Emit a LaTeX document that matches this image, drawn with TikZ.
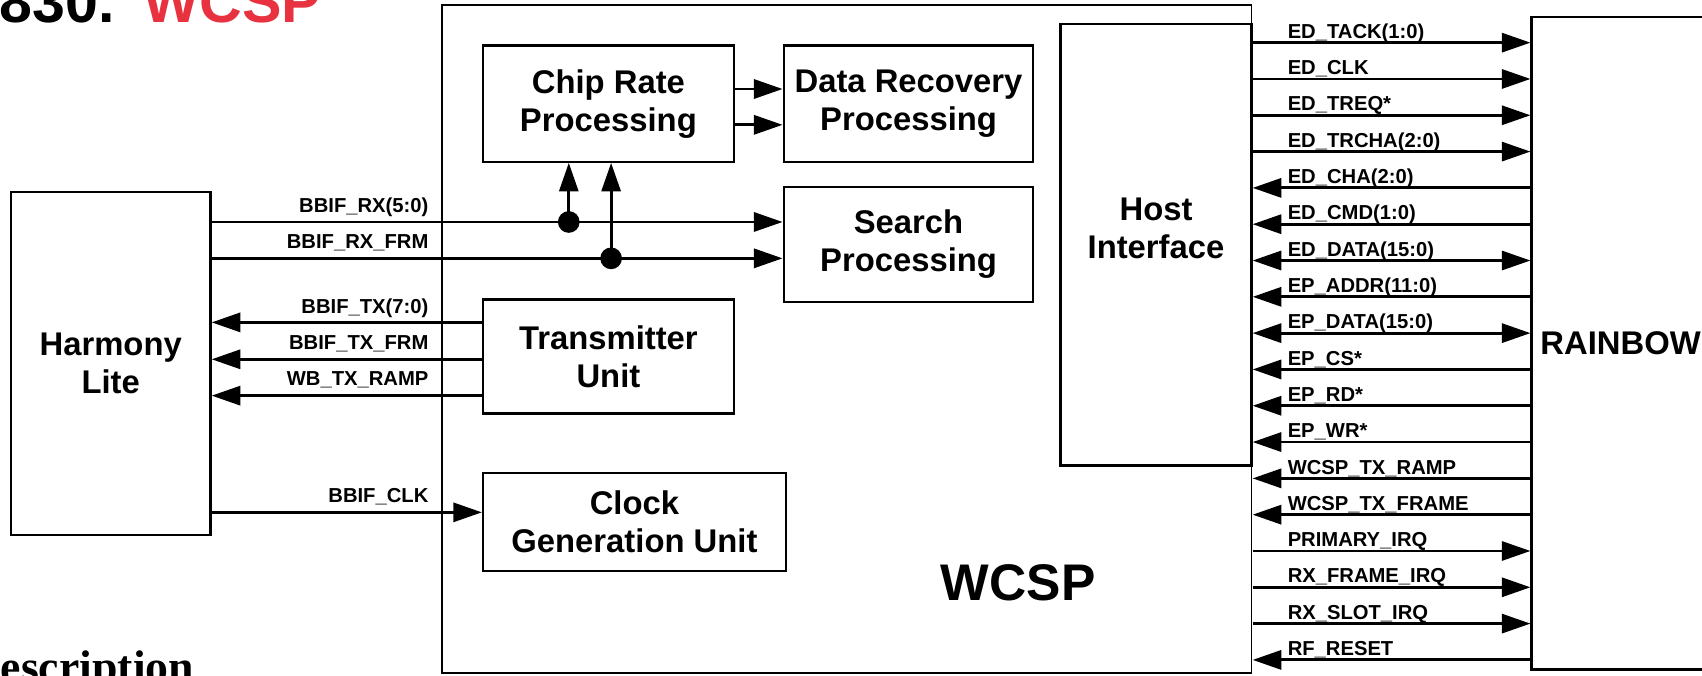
\documentclass[tikz,border=0pt]{standalone}
\usepackage{fontspec}
\usepackage{xcolor}
\usepackage{tikz}
\usetikzlibrary{arrows.meta, positioning}

\newfontfamily\arialf{Liberation Sans}
\newfontfamily\timesf{Liberation Serif}
\definecolor{titlered}{RGB}{232,50,64}

\begin{document}
\begin{tikzpicture}[
  x=0.02cm, y=-0.02cm,
  >={Triangle[length=15pt,width=10pt]},
  blk/.style={draw, line width=1.2pt, align=center, inner sep=0pt,
    font=\arialf\bfseries\fontsize{17.2}{20}\selectfont},
  sig/.style={line width=1.5pt},
  siglbl/.style={inner sep=0pt, font=\arialf\bfseries\fontsize{10.6}{12}\selectfont},
  torb/.style={->}, tohost/.style={<-}, bidir/.style={<->},
  tap/.style={circle, fill, minimum size=0.4cm, inner sep=0pt}
]
\useasboundingbox (0,0) rectangle (1568,622);

% page title and heading (cut by the page)
\node[inner sep=0pt, anchor=base east, font=\arialf\bfseries\fontsize{31}{36}\selectfont] (titlenum) at (106,21) {830.};
\node[inner sep=0pt, anchor=base west, text=titlered, font=\arialf\bfseries\fontsize{31}{36}\selectfont] (titlename) at (132,21) {WCSP};
\node[inner sep=0pt, anchor=base west, font=\timesf\bfseries\fontsize{24}{28}\selectfont] (heading) at (-30,629) {Description};

% blocks
\node[blk, minimum width=3.68cm, minimum height=6.32cm] (harmony) at (102,335) {Harmony\\Lite};
\node[draw, line width=1pt, minimum width=14.92cm, minimum height=12.31cm] (wcsp) at (780,312.3) {};
\node[blk, minimum width=4.62cm, minimum height=2.14cm] (chip) at (560.5,95.5) {Chip Rate\\Processing};
\node[blk, minimum width=4.60cm, minimum height=2.14cm] (datarec) at (837,95.5) {Data Recovery\\Processing};
\node[blk, minimum width=4.60cm, minimum height=2.12cm] (search) at (837,225) {Search\\Processing};
\node[blk, minimum width=4.62cm, minimum height=2.10cm] (tx) at (560.5,328.5) {Transmitter\\Unit};
\node[blk, minimum width=5.58cm, minimum height=1.80cm] (clkgen) at (584.5,481) {Clock\\Generation Unit};
\node[blk, minimum width=3.52cm, minimum height=8.14cm] (host) at (1065,225.5) {};
\node[blk, draw=none] (hostlbl) at (1065,210) {Host\\Interface};
\node[blk, minimum width=3.28cm, minimum height=12.03cm] (rainbow) at (1493,316.2) {RAINBOW};
\node[inner sep=0pt, anchor=base, font=\arialf\bfseries\fontsize{27}{32}\selectfont] (wcsplbl) at (938,553) {WCSP};

% Harmony Lite <-> WCSP
\node[tap] (tapa) at (524,204.5) {};
\node[tap] (tapb) at (563,238) {};
\draw[sig,->] (harmony.east |- 0,204.5) -- (search.west |- 0,204.5);
\draw[sig,->] (harmony.east |- 0,238) -- (search.west |- 0,238);
\draw[sig,->] (tapa.center) -- (tapa.center |- chip.south);
\draw[sig,->] (tapb.center) -- (tapb.center |- chip.south);
\draw[sig,->] (chip.east |- 0,82) -- (datarec.west |- 0,82);
\draw[sig,->] (chip.east |- 0,115) -- (datarec.west |- 0,115);
\draw[sig,->] (tx.west |- 0,297) -- (harmony.east |- 0,297);
\draw[sig,->] (tx.west |- 0,331) -- (harmony.east |- 0,331);
\draw[sig,->] (tx.west |- 0,364.5) -- (harmony.east |- 0,364.5);
\draw[sig,->] (harmony.east |- 0,472) -- (clkgen.west |- 0,472);

\node[siglbl, anchor=base east] (lrx) at (395,195.5) {BBIF\_RX(5:0)};
\node[siglbl, anchor=base east] (lrxfrm) at (395,229) {BBIF\_RX\_FRM};
\node[siglbl, anchor=base east] (ltx) at (395,288.5) {BBIF\_TX(7:0)};
\node[siglbl, anchor=base east] (ltxfrm) at (395,322) {BBIF\_TX\_FRM};
\node[siglbl, anchor=base east] (lramp) at (395,355.5) {WB\_TX\_RAMP};
\node[siglbl, anchor=base east] (lclk) at (395,463) {BBIF\_CLK};

% Host Interface <-> RAINBOW
\foreach \sname/\sdir [count=\i from 0] in {
  {ED\_TACK(1:0)}/torb, {ED\_CLK}/torb, {ED\_TREQ*}/torb, {ED\_TRCHA(2:0)}/torb,
  {ED\_CHA(2:0)}/tohost, {ED\_CMD(1:0)}/tohost, {ED\_DATA(15:0)}/bidir,
  {EP\_ADDR(11:0)}/tohost, {EP\_DATA(15:0)}/bidir, {EP\_CS*}/tohost,
  {EP\_RD*}/tohost, {EP\_WR*}/tohost, {WCSP\_TX\_RAMP}/tohost,
  {WCSP\_TX\_FRAME}/tohost, {PRIMARY\_IRQ}/torb, {RX\_FRAME\_IRQ}/torb,
  {RX\_SLOT\_IRQ}/torb, {RF\_RESET}/tohost}
{
  \pgfmathsetmacro{\sy}{39.3+33.45*\i}
  \draw[sig,\sdir] (host.east |- 0,\sy) -- (rainbow.west |- 0,\sy);
  \node[siglbl, anchor=base west] at (1186,\sy-4) {\sname};
}
\end{tikzpicture}
\end{document}
